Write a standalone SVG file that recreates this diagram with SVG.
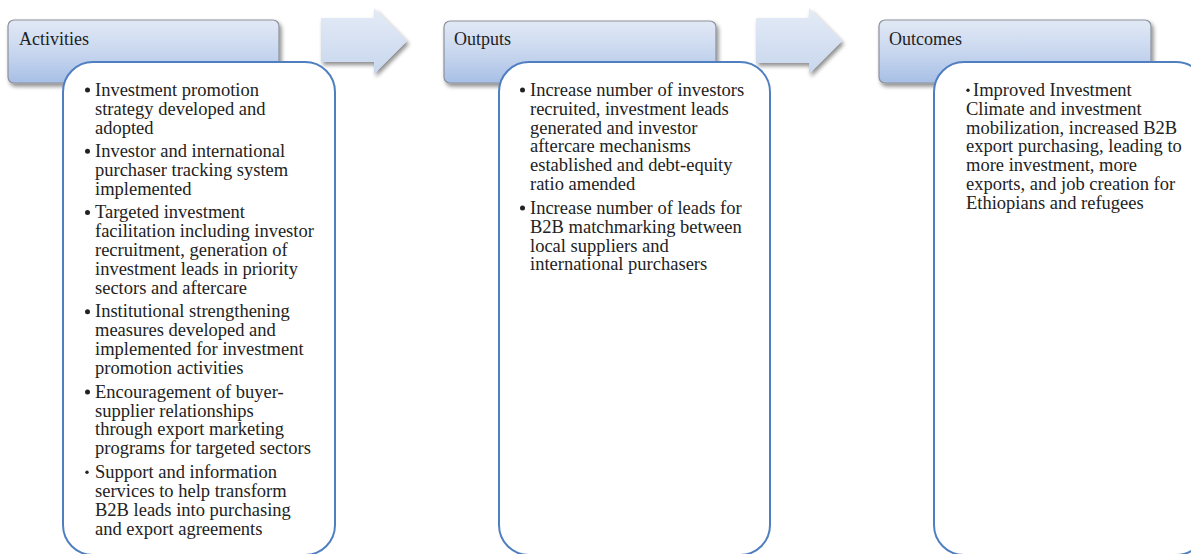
<svg xmlns="http://www.w3.org/2000/svg" width="1191" height="554" viewBox="0 0 1191 554">
  <style>
    .hdr { fill: url(#hdrFill); stroke: #8c919b; stroke-width: 1.2; filter: url(#shadow); }
    .hdr-label { font-family: "Liberation Serif", "Times New Roman", serif; font-size: 18px; fill: #222; }
    .card { fill: #ffffff; stroke: #4f7fc0; stroke-width: 2; }
    .body { font-family: "Liberation Serif", "Times New Roman", serif; font-size: 18.5px; fill: #222; }
    .dot { fill: #222; }
    .arrow { fill: url(#arrowFill); filter: url(#shadow); }
  </style>
  <defs>
    <linearGradient id="hdrFill" x1="0" y1="0" x2="0" y2="1">
      <stop offset="0" stop-color="#e2e9f5"/>
      <stop offset="0.55" stop-color="#c6d5ee"/>
      <stop offset="1" stop-color="#a7bfe6"/>
    </linearGradient>
    <linearGradient id="arrowFill" x1="0" y1="0" x2="0" y2="1">
      <stop offset="0" stop-color="#e4ebf6"/>
      <stop offset="1" stop-color="#c8d7ee"/>
    </linearGradient>
    <filter id="shadow" x="-10%" y="-20%" width="130%" height="160%">
      <feGaussianBlur in="SourceAlpha" stdDeviation="2"/>
      <feOffset dx="1.5" dy="2.5" result="blur"/>
      <feComponentTransfer><feFuncA type="linear" slope="0.45"/></feComponentTransfer>
      <feMerge><feMergeNode/><feMergeNode in="SourceGraphic"/></feMerge>
    </filter>
  </defs>

  <!-- flow arrows between stages -->
  <g id="connectors">
    <polygon class="arrow" points="321,18 374,18 374,8 407,41 374,74 374,62 321,62"/>
    <polygon class="arrow" points="756,18 809,18 809,8 842,41 809,74 809,63 756,63"/>
  </g>

  <!-- Activities -->
  <g id="activities">
    <rect class="hdr" x="8" y="20" width="271" height="63" rx="6"/>
    <text class="hdr-label" x="19" y="45">Activities</text>
    <rect class="card" x="63" y="62" width="272" height="493" rx="30"/>
    <g class="body">
      <text x="95" y="95.7">Investment promotion</text>
      <text x="95" y="114.6">strategy developed and</text>
      <text x="95" y="133.5">adopted</text>
      <text x="95" y="157">Investor and international</text>
      <text x="95" y="175.9">purchaser tracking system</text>
      <text x="95" y="194.8">implemented</text>
      <text x="95" y="218.3">Targeted investment</text>
      <text x="95" y="237.2">facilitation including investor</text>
      <text x="95" y="256.1">recruitment, generation of</text>
      <text x="95" y="275">investment leads in priority</text>
      <text x="95" y="293.9">sectors and aftercare</text>
      <text x="95" y="317.4">Institutional strengthening</text>
      <text x="95" y="336.3">measures developed and</text>
      <text x="95" y="355.2">implemented for investment</text>
      <text x="95" y="374.1">promotion activities</text>
      <text x="95" y="397.6">Encouragement of buyer-</text>
      <text x="95" y="416.5">supplier relationships</text>
      <text x="95" y="435.4">through export marketing</text>
      <text x="95" y="454.3">programs for targeted sectors</text>
      <text x="95" y="477.8">Support and information</text>
      <text x="95" y="496.7">services to help transform</text>
      <text x="95" y="515.6">B2B leads into purchasing</text>
      <text x="95" y="534.5">and export agreements</text>
    </g>
    <circle class="dot" cx="87.5" cy="90" r="2.5"/>
    <circle class="dot" cx="87.5" cy="151.3" r="2.5"/>
    <circle class="dot" cx="87.5" cy="212.6" r="2.5"/>
    <circle class="dot" cx="87.5" cy="311.7" r="2.5"/>
    <circle class="dot" cx="87.5" cy="391.9" r="2.5"/>
    <circle class="dot" cx="87" cy="472.3" r="1.7"/>
  </g>

  <!-- Outputs -->
  <g id="outputs">
    <rect class="hdr" x="444" y="21" width="272" height="62" rx="6"/>
    <text class="hdr-label" x="454" y="45">Outputs</text>
    <rect class="card" x="499" y="62" width="271" height="493" rx="30"/>
    <g class="body">
      <text x="530" y="95.7">Increase number of investors</text>
      <text x="530" y="114.6">recruited, investment leads</text>
      <text x="530" y="133.5">generated and investor</text>
      <text x="530" y="152.4">aftercare mechanisms</text>
      <text x="530" y="171.3">established and debt-equity</text>
      <text x="530" y="190.2">ratio amended</text>
      <text x="530" y="213.7">Increase number of leads for</text>
      <text x="530" y="232.6">B2B matchmarking between</text>
      <text x="530" y="251.5">local suppliers and</text>
      <text x="530" y="270.4">international purchasers</text>
    </g>
    <circle class="dot" cx="522.5" cy="90" r="2.5"/>
    <circle class="dot" cx="522.5" cy="208" r="2.5"/>
  </g>

  <!-- Outcomes -->
  <g id="outcomes">
    <rect class="hdr" x="879" y="20" width="272" height="63" rx="6"/>
    <text class="hdr-label" x="889" y="45">Outcomes</text>
    <rect class="card" x="934" y="62" width="272" height="493" rx="30"/>
    <g class="body">
      <text x="973" y="95.7">Improved Investment</text>
      <text x="966" y="114.6">Climate and investment</text>
      <text x="966" y="133.5">mobilization, increased B2B</text>
      <text x="966" y="152.4">export purchasing, leading to</text>
      <text x="966" y="171.3">more investment, more</text>
      <text x="966" y="190.2">exports, and job creation for</text>
      <text x="966" y="209.1">Ethiopians and refugees</text>
    </g>
    <circle class="dot" cx="968" cy="90.2" r="1.7"/>
  </g>
</svg>
